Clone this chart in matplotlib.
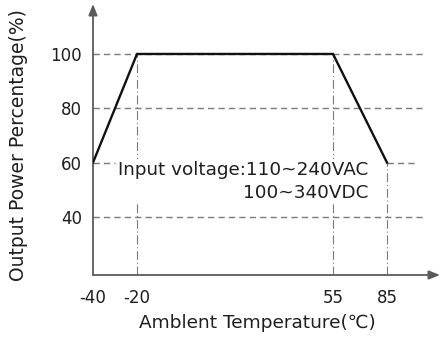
import numpy as np
import matplotlib
matplotlib.use("Agg")
import matplotlib.pyplot as plt

# Derating curve data
temps = [-40, -20, 55, 85]
power = [60, 100, 100, 60]
x_ticks = [-40, -20, 55, 85]
y_ticks = [40, 60, 80, 100]
x_tick_labels = ["-40", "-20", "55", "85"]
y_tick_labels = ["40", "60", "80", "100"]

# Piecewise-linear temperature axis (uneven spacing between marked temperatures)
knot_t = [-40, -20, 55, 85, 114.4]
knot_p = [0, 44, 240, 294, 347]


def fwd(x):
    return np.interp(x, knot_t, knot_p)


def inv(p):
    return np.interp(p, knot_p, knot_t)


plt.rcParams['font.family'] = ['DejaVu Sans']
txt = '#1e1e1e'
grid_c = '#7a7a7a'
axis_c = '#5a5a5a'

fig = plt.figure(figsize=(4.4, 3.39), dpi=100)
ax = fig.add_axes([93 / 440, 64 / 339, 347 / 440, 271 / 339])
ax.set_xscale('function', functions=(fwd, inv))
ax.set_xlim(-40, 114.4)
ax.set_ylim(18.6, 118.4)

for s in ax.spines.values():
    s.set_visible(False)

# Horizontal dashed guides
hdash = dict(color=grid_c, lw=1.0, dashes=(4.5, 3), zorder=1)
for yv in [40, 80, 100]:
    ax.plot([-40, 105], [yv, yv], **hdash)
ax.plot([-40, -30], [60, 60], **hdash)
ax.plot([85, 101.7], [60, 60], **hdash)

# Vertical dash-dot guides
vdash = dict(color=grid_c, lw=0.8, dashes=(8, 2.5, 1, 2.5), zorder=1)
ax.plot([-20, -20], [18.6, 100], **vdash)
ax.plot([55, 55], [18.6, 100], **vdash)
ax.plot([85, 85], [18.6, 60], **vdash)

# Derating curve
ax.plot(temps, power, color='#111111', lw=1.7, zorder=4, solid_joinstyle='miter')

# Axes with arrows
arrow = dict(arrowstyle='-|>,head_length=0.55,head_width=0.22', color=axis_c,
             lw=1.3, shrinkA=0, shrinkB=0, mutation_scale=12)
ax.annotate('', xy=(1.0, 0), xytext=(0, 0), xycoords='axes fraction',
            arrowprops=arrow, annotation_clip=False)
ax.annotate('', xy=(0, 1.0), xytext=(0, 0), xycoords='axes fraction',
            arrowprops=arrow, annotation_clip=False)

ax.set_xticks(x_ticks)
ax.set_xticklabels(x_tick_labels)
ax.set_yticks(y_ticks)
ax.set_yticklabels(y_tick_labels)
ax.xaxis.set_minor_locator(matplotlib.ticker.NullLocator())
ax.tick_params(axis='both', length=0, labelsize=12, colors=txt)
ax.tick_params(axis='x', pad=10)
ax.tick_params(axis='y', pad=8)

ax.text(0.7925, 0.345, "Input voltage:110~240VAC\n100~340VDC",
        transform=ax.transAxes, ha='right', va='center', multialignment='right',
        fontsize=13.2, color=txt, linespacing=1.37, zorder=3,
        bbox=dict(boxstyle='square,pad=0.1', facecolor='white', edgecolor='none'))

fig.text(0.041, 0.572, "Output Power Percentage(%)", rotation=90,
         ha='center', va='center', fontsize=13.5, color=txt)
fig.text(0.584, 0.047, "Amblent Temperature(℃)", ha='center', va='center',
         fontsize=13.3, color=txt)

fig.savefig('out.png', dpi=100, facecolor='white')
